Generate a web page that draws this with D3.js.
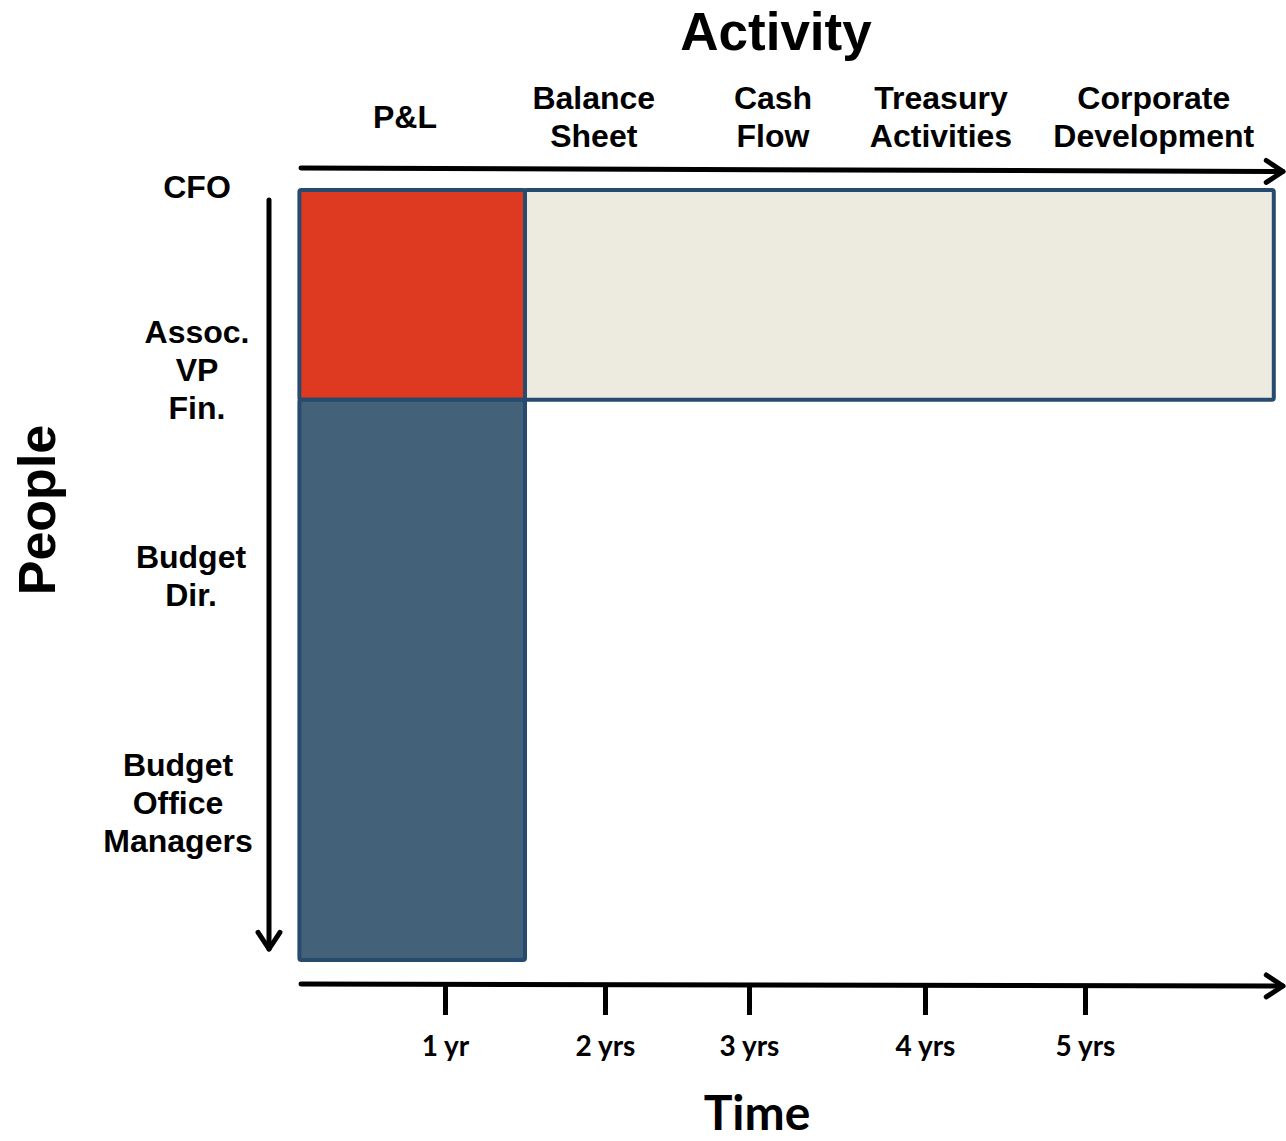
<!DOCTYPE html>
<html>
<head>
<meta charset="utf-8">
<script src="https://cdn.jsdelivr.net/npm/d3@7"></script>
<style>
  body { margin: 0; background: #fff; }
  svg { display: block; }
</style>
</head>
<body>
<svg id="chart"></svg>
<script>
// activities along the top, placed at the year they are picked up
const activities = ["P&L", "Balance Sheet", "Cash Flow", "Treasury Activities", "Corporate Development"];
const activityYear = [0.75, 1.93, 3.05, 4.1, 5.43];

// people down the side, by level
const people = ["CFO", "Assoc. VP Fin.", "Budget Dir.", "Budget Office Managers"];
const peopleLevel = [-0.02, 0.93, 2.0, 3.18];

// time axis (the 3 yr mark sits a little early in the drawing)
const timeTicks = [1, 2, 2.9, 4, 5];
const timeLabels = ["1 yr", "2 yrs", "3 yrs", "4 yrs", "5 yrs"];

// shaded blocks: years covered x levels covered
const blockNames = ["P&L senior", "Other activities senior", "P&L staff"];
const blockYearFrom = [0.09, 1.5, 0.09];
const blockYearTo = [1.5, 6.18, 1.5];
const blockLevelFrom = [0, 0, 1.09];
const blockLevelTo = [1.09, 1.09, 4];
const blockColors = ["#dd3a21", "#edeae0", "#436279"];

const W = 1286, H = 1141;
const arial = "'Liberation Sans', Arial, sans-serif";
const calibri = "Lato, 'Open Sans', sans-serif";

const svg = d3.select('#chart')
    .attr('width', W)
    .attr('height', H);

const x = d3.scaleLinear().domain([0, 6]).range([285, 1245]);
const y = d3.scaleLinear().domain([0, 4]).range([190, 960]);

// blocks
const blocks = blockNames.map((name, i) => ({
    name,
    x0: blockYearFrom[i], x1: blockYearTo[i],
    y0: blockLevelFrom[i], y1: blockLevelTo[i],
    color: blockColors[i]
}));

svg.append('g').selectAll('rect')
    .data(blocks)
    .join('rect')
    .attr('x', d => x(d.x0))
    .attr('y', d => y(d.y0))
    .attr('width', d => x(d.x1) - x(d.x0))
    .attr('height', d => y(d.y1) - y(d.y0))
    .attr('rx', 2)
    .attr('fill', d => d.color)
    .attr('stroke', '#264b6e')
    .attr('stroke-width', 4);

// arrows
function arrow(x1, y1, x2, y2) {
    const g = svg.append('g')
        .attr('stroke', '#000')
        .attr('stroke-width', 5)
        .attr('fill', 'none')
        .attr('stroke-linecap', 'round')
        .attr('stroke-linejoin', 'round');
    g.append('line')
        .attr('x1', x1).attr('y1', y1)
        .attr('x2', x2).attr('y2', y2);
    const a = Math.atan2(y2 - y1, x2 - x1), len = 20, spread = 0.58;
    const p1 = [x2 - len * Math.cos(a - spread), y2 - len * Math.sin(a - spread)];
    const p2 = [x2 - len * Math.cos(a + spread), y2 - len * Math.sin(a + spread)];
    g.append('path')
        .attr('d', `M${p1[0]},${p1[1]}L${x2},${y2}L${p2[0]},${p2[1]}`);
}
arrow(x(0.1), 168, 1283, 171.5);
arrow(x(0.1), 984, 1283, 986);
arrow(269, 200, 269, 949);

// time axis ticks
const xAxis = d3.axisBottom(x)
    .tickValues(timeTicks)
    .tickFormat((d, i) => timeLabels[i])
    .tickSize(30);

const axisG = svg.append('g')
    .attr('transform', 'translate(0, 985)')
    .call(xAxis);
axisG.select('.domain').remove();
axisG.selectAll('.tick line')
    .attr('stroke', '#000')
    .attr('stroke-width', 5);
axisG.selectAll('.tick text')
    .attr('y', 71)
    .attr('dy', 0)
    .attr('fill', '#000')
    .style('font-family', calibri)
    .style('font-weight', 'bold')
    .style('font-size', '28px');

// multi-line labels
function lines(sel, words, lh, cy) {
    const n = words.length;
    words.forEach((w, i) => {
        sel.append('tspan')
            .attr('x', sel.attr('x'))
            .attr('y', cy - (n - 1) * lh / 2 + i * lh + 11.5)
            .text(w);
    });
}

// activity labels
svg.append('g').selectAll('text')
    .data(activities)
    .join('text')
    .attr('x', (d, i) => x(activityYear[i]))
    .attr('text-anchor', 'middle')
    .style('font-family', arial)
    .style('font-weight', 'bold')
    .style('font-size', '32px')
    .each(function (d) {
        lines(d3.select(this), d.split(' '), 38, 116);
    });

// people labels
const rowLabelCx = [197, 197, 191, 178];
svg.append('g').selectAll('text')
    .data(people)
    .join('text')
    .attr('x', (d, i) => rowLabelCx[i])
    .attr('text-anchor', 'middle')
    .style('font-family', arial)
    .style('font-weight', 'bold')
    .style('font-size', '32px')
    .each(function (d, i) {
        lines(d3.select(this), d.split(' '), 38, y(peopleLevel[i]));
    });

// axis titles
svg.append('text')
    .attr('x', 776)
    .attr('y', 50)
    .attr('text-anchor', 'middle')
    .style('font-family', arial)
    .style('font-weight', 'bold')
    .style('font-size', '53px')
    .text('Activity');

svg.append('text')
    .attr('x', 757)
    .attr('y', 1130)
    .attr('text-anchor', 'middle')
    .style('font-family', calibri)
    .style('font-weight', 'bold')
    .style('font-size', '48px')
    .text('Time');

svg.append('text')
    .attr('transform', 'translate(55, 510) rotate(-90)')
    .attr('text-anchor', 'middle')
    .style('font-family', arial)
    .style('font-weight', 'bold')
    .style('font-size', '52px')
    .text('People');
</script>
</body>
</html>
